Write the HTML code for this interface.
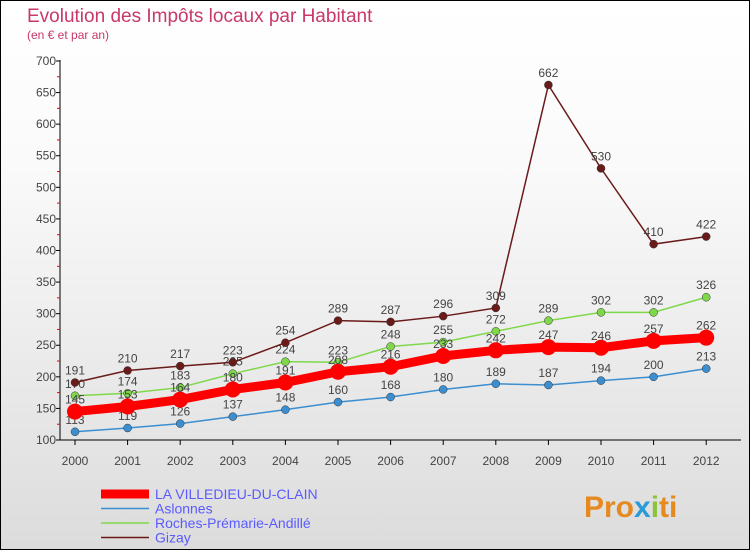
<!DOCTYPE html>
<html><head><meta charset="utf-8"><style>
body{margin:0;width:750px;height:550px;overflow:hidden;font-family:"Liberation Sans",sans-serif}
#wrap{position:relative;width:748px;height:548px;border:1px solid #000;background:linear-gradient(#fff,#fafafa 30%,#dcdcdc)}
</style></head><body>
<div id="wrap">
<svg id="chart" width="748" height="548">
<text x="26" y="21" font-size="19" fill="#c8386a">Evolution des Impôts locaux par Habitant</text>
<text x="26" y="38" font-size="12" fill="#c8386a">(en € et par an)</text>
<g id="axes"></g><g id="series"></g><g id="legend"></g>
<text x="583" y="516" font-size="30" font-weight="bold" fill="#e58a1f">Pro<tspan fill="#2a9ad8">x</tspan><tspan fill="#8bc43a">i</tspan>ti</text>
</svg></div>
<script>
const years=[2000,2001,2002,2003,2004,2005,2006,2007,2008,2009,2010,2011,2012];
const villedieu=[145,153,164,180,191,208,216,233,242,247,246,257,262];
const aslonnes=[113,119,126,137,148,160,168,180,189,187,194,200,213];
const roches=[170,174,183,205,224,223,248,255,272,289,302,302,326];
const gizay=[191,210,217,223,254,289,287,296,309,662,530,410,422];
const yTicks=[100,150,200,250,300,350,400,450,500,550,600,650,700];
const NS='http://www.w3.org/2000/svg';
const x=i=>74+i*52.6;
const y=v=>439-(v-100)*0.6317;
function mk(t,a,p){const e=document.createElementNS(NS,t);for(const k in a)e.setAttribute(k,a[k]);p.appendChild(e);return e;}
const ax=document.getElementById('axes');
let l=mk('line',{x1:59,y1:59,x2:59,y2:439,stroke:'#000'},ax);


l=mk('line',{x1:59,y1:439,x2:740,y2:439,stroke:'#000'},ax);


yTicks.forEach(v=>{
 const t=mk('text',{x:55,y:y(v)+4,'font-size':12,fill:'#444','text-anchor':'end'},ax);t.textContent=v;
 
 
 mk('line',{x1:55,y1:y(v),x2:59,y2:y(v),stroke:'#000'},ax);
 if(v<700){mk('line',{x1:56,y1:y(v+25),x2:59,y2:y(v+25),stroke:'#e00'},ax);}
});
years.forEach((yr,i)=>{
 const t=mk('text',{x:x(i),y:464,'font-size':12,fill:'#444','text-anchor':'middle'},ax);t.textContent=yr;
 
 
 mk('line',{x1:x(i),y1:439,x2:x(i),y2:444,stroke:'#000'},ax);
});
const S=document.getElementById('series');
const series=[
 {name:'aslonnes',data:aslonnes,c:'#3b8ed0',w:1.5,r:4,label:'Aslonnes'},
 {name:'roches',data:roches,c:'#7fd84a',w:1.5,r:4,label:'Roches-Prémarie-Andillé'},
 {name:'gizay',data:gizay,c:'#6b1a1a',w:1.5,r:4,label:'Gizay'},
 {name:'villedieu',data:villedieu,c:'#ff0000',w:9,r:8,label:'LA VILLEDIEU-DU-CLAIN'}];
series.forEach(s=>{
 const p=mk('polyline',{points:s.data.map((v,i)=>x(i)+','+y(v)).join(' '),fill:'none',stroke:s.c,'stroke-width':s.w},S);
 
 
 s.data.forEach((v,i)=>{
  const c=mk('circle',{cx:x(i),cy:y(v),r:s.r,fill:s.c,stroke:s.w>2?'none':'#333','stroke-width':0.5},S);
  
  
  const t=mk('text',{x:x(i),y:y(v)-8,'font-size':12,fill:'#444','text-anchor':'middle'},S);t.textContent=v;
  
  
 });
});
const L=document.getElementById('legend');
const leg=[series[3],series[0],series[1],series[2]];
leg.forEach((s,i)=>{
 const yy=493+i*14.5;
 mk('line',{x1:100,y1:yy,x2:148,y2:yy,stroke:s.c,'stroke-width':s.w},L);
 const t=mk('text',{x:154,y:yy+5,'font-size':14,fill:'#5a5aff'},L);t.textContent=s.label;
 
 
});
</script>
</body></html>
